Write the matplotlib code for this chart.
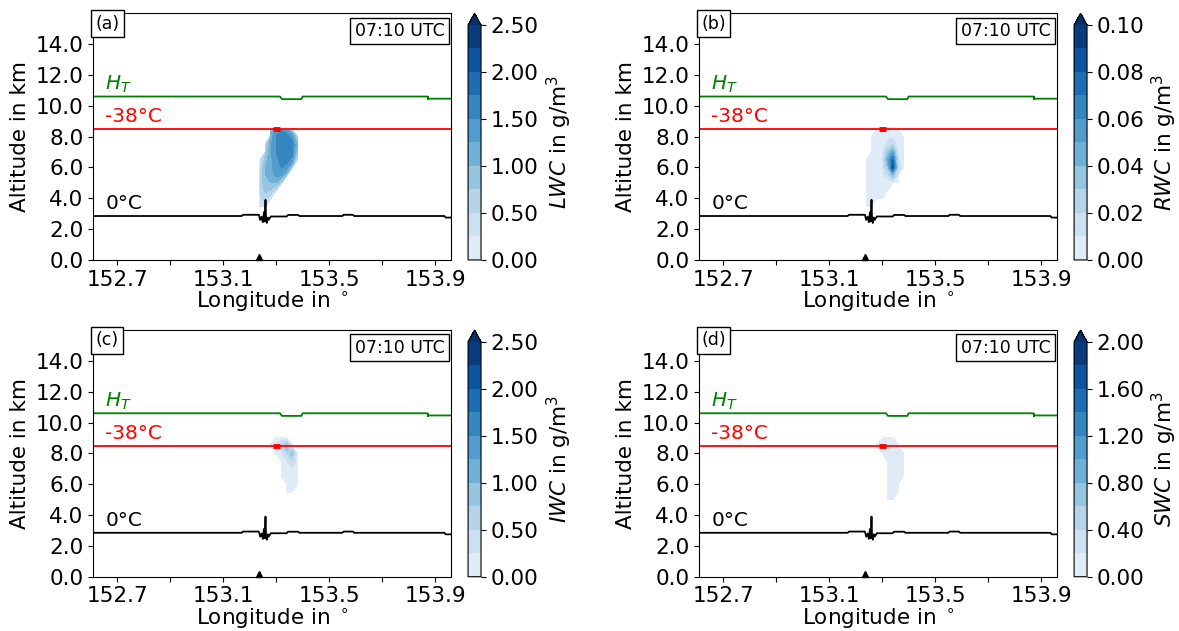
import matplotlib
matplotlib.use("Agg")
import matplotlib.pyplot as plt
from matplotlib.colors import ListedColormap
import numpy as np

# grid of the cloud fields (lon x altitude, rows from top to bottom)
cloud_lon = [153.22, 153.24, 153.26, 153.28, 153.30, 153.32, 153.34, 153.36, 153.38, 153.40, 153.42]
cloud_alt = [9.5, 9.0, 8.6, 8.4, 8.0, 7.5, 7.0, 6.5, 6.0, 5.5, 5.0, 4.5, 4.0, 3.5, 3.0]

lwc = [
    [0, 0, 0, 0, 0, 0, 0, 0, 0, 0, 0],
    [0, 0, 0, 0, 0, 0, 0, 0, 0, 0, 0],
    [0, 0, 0, 0, 0, 0, 0, 0, 0, 0, 0],
    [0, 0, 0, 0.9, 1.4, 1.5, 1.4, 0.8, 0, 0, 0],
    [0, 0, 0, 1.1, 1.5, 1.6, 1.6, 1.4, 0.6, 0, 0],
    [0, 0, 0.5, 1.2, 1.5, 1.6, 1.7, 1.6, 1.0, 0, 0],
    [0, 0, 0.7, 1.2, 1.5, 1.6, 1.7, 1.6, 0.8, 0, 0],
    [0, 0.3, 0.9, 1.2, 1.4, 1.6, 1.6, 1.4, 0.4, 0, 0],
    [0, 0.5, 1.0, 1.2, 1.4, 1.5, 1.4, 0.7, 0, 0, 0],
    [0, 0.6, 1.0, 1.1, 1.3, 1.3, 0.8, 0, 0, 0, 0],
    [0, 0.6, 0.9, 1.0, 1.0, 0.6, 0, 0, 0, 0, 0],
    [0, 0.6, 0.8, 0.7, 0.3, 0, 0, 0, 0, 0, 0],
    [0, 0.5, 0.6, 0.3, 0, 0, 0, 0, 0, 0, 0],
    [0, 0.4, 0.3, 0, 0, 0, 0, 0, 0, 0, 0],
    [0, 0, 0, 0, 0, 0, 0, 0, 0, 0, 0],
]

rwc = [
    [0, 0, 0, 0, 0, 0, 0, 0, 0, 0, 0],
    [0, 0, 0, 0, 0, 0, 0, 0, 0, 0, 0],
    [0, 0, 0, 0, 0.003, 0.004, 0.003, 0, 0, 0, 0],
    [0, 0, 0, 0.004, 0.005, 0.005, 0.005, 0.003, 0, 0, 0],
    [0, 0, 0.003, 0.005, 0.006, 0.008, 0.008, 0.005, 0.002, 0, 0],
    [0, 0, 0.004, 0.005, 0.006, 0.012, 0.02, 0.006, 0.002, 0, 0],
    [0, 0, 0.005, 0.005, 0.007, 0.03, 0.05, 0.008, 0.002, 0, 0],
    [0, 0.003, 0.005, 0.006, 0.008, 0.045, 0.075, 0.012, 0.002, 0, 0],
    [0, 0.004, 0.005, 0.006, 0.008, 0.03, 0.085, 0.02, 0.002, 0, 0],
    [0, 0.004, 0.005, 0.006, 0.007, 0.015, 0.035, 0.008, 0, 0, 0],
    [0, 0.004, 0.005, 0.006, 0.006, 0.006, 0.005, 0.002, 0, 0, 0],
    [0, 0.004, 0.005, 0.005, 0.005, 0.003, 0, 0, 0, 0, 0],
    [0, 0.003, 0.004, 0.004, 0.002, 0, 0, 0, 0, 0, 0],
    [0, 0.002, 0.002, 0, 0, 0, 0, 0, 0, 0, 0],
    [0, 0, 0, 0, 0, 0, 0, 0, 0, 0, 0],
]

iwc = [
    [0, 0, 0, 0, 0, 0, 0, 0, 0, 0, 0],
    [0, 0, 0, 0, 0.1, 0.15, 0.05, 0, 0, 0, 0],
    [0, 0, 0, 0.05, 0.2, 0.4, 0.8, 0.1, 0, 0, 0],
    [0, 0, 0, 0.03, 0.15, 0.35, 1.0, 0.4, 0, 0, 0],
    [0, 0, 0, 0, 0.1, 0.2, 0.5, 0.9, 0.1, 0, 0],
    [0, 0, 0, 0, 0, 0.15, 0.25, 0.45, 0.15, 0, 0],
    [0, 0, 0, 0, 0, 0.1, 0.2, 0.2, 0.12, 0, 0],
    [0, 0, 0, 0, 0, 0.05, 0.15, 0.2, 0.1, 0, 0],
    [0, 0, 0, 0, 0, 0, 0.15, 0.15, 0.05, 0, 0],
    [0, 0, 0, 0, 0, 0, 0.08, 0.1, 0, 0, 0],
    [0, 0, 0, 0, 0, 0, 0, 0, 0, 0, 0],
    [0, 0, 0, 0, 0, 0, 0, 0, 0, 0, 0],
    [0, 0, 0, 0, 0, 0, 0, 0, 0, 0, 0],
    [0, 0, 0, 0, 0, 0, 0, 0, 0, 0, 0],
    [0, 0, 0, 0, 0, 0, 0, 0, 0, 0, 0],
]

swc = [
    [0, 0, 0, 0, 0, 0, 0, 0, 0, 0, 0],
    [0, 0, 0, 0, 0.05, 0.08, 0.05, 0, 0, 0, 0],
    [0, 0, 0, 0.03, 0.08, 0.1, 0.12, 0.04, 0, 0, 0],
    [0, 0, 0, 0.03, 0.08, 0.1, 0.15, 0.05, 0, 0, 0],
    [0, 0, 0, 0, 0.05, 0.1, 0.12, 0.22, 0.03, 0, 0],
    [0, 0, 0, 0, 0, 0.08, 0.1, 0.12, 0.05, 0, 0],
    [0, 0, 0, 0, 0, 0.08, 0.1, 0.1, 0.05, 0, 0],
    [0, 0, 0, 0, 0, 0.06, 0.1, 0.1, 0.03, 0, 0],
    [0, 0, 0, 0, 0, 0.05, 0.08, 0.08, 0, 0, 0],
    [0, 0, 0, 0, 0, 0.05, 0.06, 0.04, 0, 0, 0],
    [0, 0, 0, 0, 0, 0.03, 0.04, 0, 0, 0, 0],
    [0, 0, 0, 0, 0, 0, 0, 0, 0, 0, 0],
    [0, 0, 0, 0, 0, 0, 0, 0, 0, 0, 0],
    [0, 0, 0, 0, 0, 0, 0, 0, 0, 0, 0],
    [0, 0, 0, 0, 0, 0, 0, 0, 0, 0, 0],
]

# tropopause, -38 C and 0 C heights along the cross section
ht_lon = [152.61, 153.315, 153.322, 153.395, 153.40, 153.87, 153.875, 153.96]
ht_alt = [10.6, 10.6, 10.43, 10.43, 10.6, 10.6, 10.46, 10.46]
t38_lon = [152.61, 153.96]
t38_alt = [8.5, 8.5]
t0_lon = [152.61, 153.17, 153.175, 153.235, 153.24, 153.245, 153.25, 153.254, 153.257,
          153.26, 153.262, 153.265, 153.268, 153.272, 153.28, 153.34, 153.345, 153.383,
          153.388, 153.55, 153.555, 153.59, 153.595, 153.935, 153.94, 153.96]
t0_alt = [2.85, 2.85, 2.93, 2.93, 2.6, 2.8, 2.45, 3.1, 2.5, 3.9, 2.6, 2.4, 2.75, 2.6, 2.82,
          2.82, 2.92, 2.92, 2.85, 2.85, 2.93, 2.93, 2.85, 2.85, 2.75, 2.75]
site_lon = 153.235

panels = ["(a)", "(b)", "(c)", "(d)"]
fields = [lwc, rwc, iwc, swc]
names = ["LWC", "RWC", "IWC", "SWC"]
level_max = [2.5, 0.1, 2.5, 2.0]
cbar_step = [0.5, 0.02, 0.5, 0.4]
time_label = "07:10 UTC"

lon_ticks = [152.7, 152.9, 153.1, 153.3, 153.5, 153.7, 153.9]
lon_labels = ["152.7", "", "153.1", "", "153.5", "", "153.9"]
alt_ticks = [0, 2, 4, 6, 8, 10, 12, 14]

blues = plt.get_cmap("Blues")
cmap = ListedColormap(blues(np.linspace(0.12, 0.95, 10)))
cmap.set_over(blues(1.0))

fig = plt.figure(figsize=(11.79, 6.31), dpi=100)
lefts = [0.0789, 0.5929, 0.0789, 0.5929]
bottoms = [0.588, 0.588, 0.086, 0.086]
W, H = 0.3036, 0.391

X, Y = np.meshgrid(cloud_lon, cloud_alt)
for i in range(4):
    ax = fig.add_axes([lefts[i], bottoms[i], W, H])
    cax = fig.add_axes([lefts[i] + W + 0.0145, bottoms[i], 0.011, H])

    levels = np.linspace(0, level_max[i], 11)
    Z = np.array(fields[i], dtype=float)
    Z = np.where(Z > 0, Z, -3 * level_max[i])  # no cloud -> below range, left white
    cf = ax.contourf(X, Y, Z, levels=levels, cmap=cmap, extend="max")

    ax.plot(ht_lon, ht_alt, color="green", lw=1.3)
    ax.plot([153.868, 153.878], [10.52, 10.52], color="green", lw=3, solid_capstyle="butt")
    ax.plot(t38_lon, t38_alt, color="red", lw=1.3)
    ax.plot([153.29, 153.315], [8.48, 8.48], color="red", lw=3.5, solid_capstyle="butt")
    ax.plot(t0_lon, t0_alt, color="black", lw=1.3)
    ax.plot(site_lon, 0.2, marker="^", color="black", ms=4, clip_on=False)

    ax.text(152.655, 11.05, "$H_T$", color="green", fontsize=14.5)
    ax.text(152.655, 8.95, "-38°C", color="red", fontsize=14.5)
    ax.text(152.655, 3.3, "0°C", color="black", fontsize=14.5)

    ax.text(0.006, 0.994, panels[i], transform=ax.transAxes, ha="left", va="top", fontsize=12.5,
            bbox=dict(boxstyle="square,pad=0.25", fc="white", ec="black", lw=1))
    ax.text(0.982, 0.965, time_label, transform=ax.transAxes, ha="right", va="top", fontsize=12.5,
            bbox=dict(boxstyle="square,pad=0.25", fc="white", ec="black", lw=1))

    ax.set_xlim(152.609, 153.96)
    ax.set_ylim(0, 16)
    ax.set_xticks(lon_ticks)
    ax.set_xticklabels(lon_labels)
    ax.set_yticks(alt_ticks)
    ax.set_yticklabels([f"{v:.1f}" for v in alt_ticks])
    ax.tick_params(labelsize=15.5)
    ax.set_xlabel(r"Longitude in $^\circ$", fontsize=15.5, labelpad=0)
    ax.set_ylabel("Altitude in km", fontsize=15.5)

    cticks = np.arange(0, level_max[i] + 1e-9, cbar_step[i])
    cb = fig.colorbar(cf, cax=cax, ticks=cticks)
    cb.ax.set_yticklabels([f"{v:.2f}" for v in cticks])
    cb.ax.tick_params(labelsize=15.5)
    cb.set_label(f"${names[i]}$ in g/m$^3$", fontsize=15.5)

fig.savefig("out.png", dpi=100)
